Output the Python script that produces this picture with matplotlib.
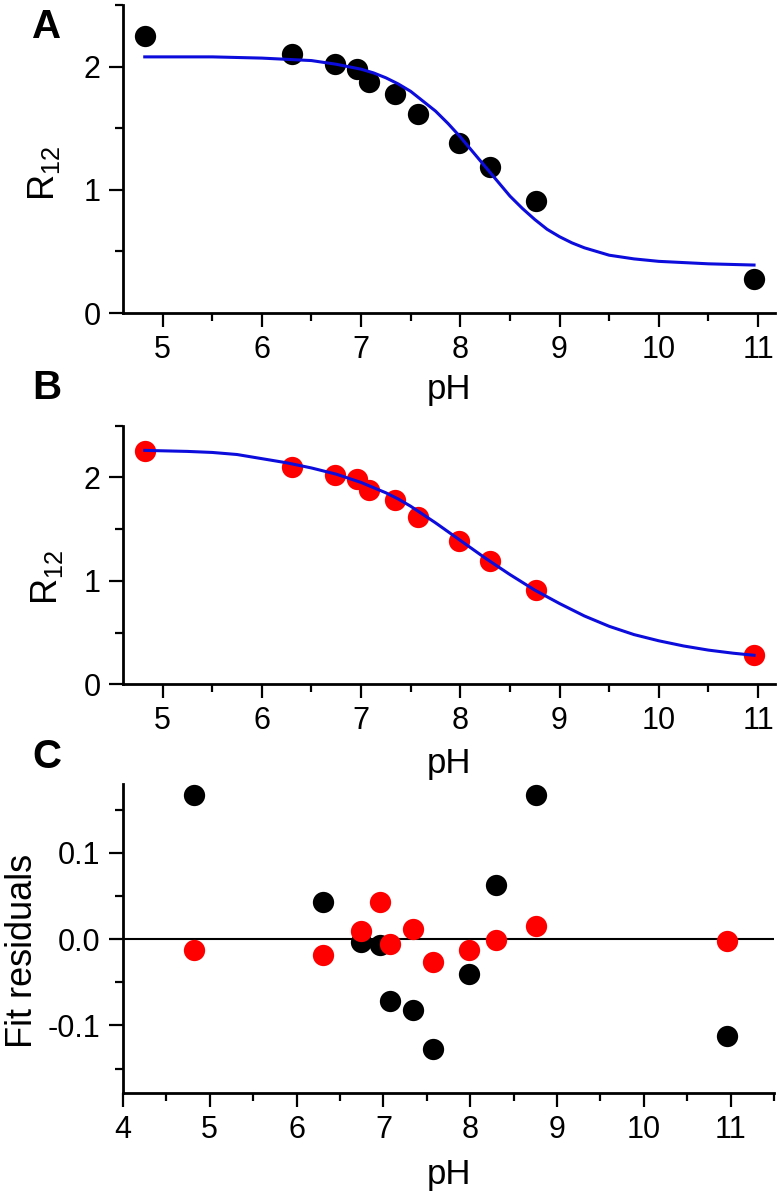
import matplotlib
matplotlib.use("Agg")
import matplotlib.pyplot as plt
from matplotlib.ticker import MultipleLocator, FormatStrFormatter

plt.rcParams['font.family'] = ['Liberation Sans', 'DejaVu Sans']
plt.rcParams['axes.unicode_minus'] = False

# measured points (same data in A and B)
ph = [4.82, 6.30, 6.74, 6.96, 7.08, 7.34, 7.57, 7.99, 8.30, 8.76, 10.96]
r12 = [2.25, 2.10, 2.02, 1.98, 1.88, 1.78, 1.62, 1.38, 1.19, 0.91, 0.28]

# fit curve of panel A
fit_a_ph = [4.82, 5.5, 6.0, 6.5, 6.75, 7.0, 7.125, 7.25, 7.375, 7.5, 7.625, 7.75,
            7.875, 8.0, 8.125, 8.25, 8.375, 8.5, 8.625, 8.75, 8.875, 9.0, 9.125,
            9.25, 9.375, 9.5, 9.75, 10.0, 10.5, 10.96]
fit_a_r = [2.08, 2.08, 2.07, 2.05, 2.02, 1.98, 1.95, 1.91, 1.86, 1.80, 1.72, 1.64,
           1.54, 1.43, 1.31, 1.19, 1.07, 0.95, 0.85, 0.76, 0.68, 0.62, 0.57,
           0.53, 0.50, 0.47, 0.44, 0.42, 0.40, 0.39]

# fit curve of panel B
fit_b_ph = [4.82, 5.25, 5.5, 5.75, 6.0, 6.25, 6.5, 6.75, 7.0, 7.125, 7.25, 7.375,
            7.5, 7.625, 7.75, 7.875, 8.0, 8.125, 8.25, 8.375, 8.5, 8.625, 8.75,
            8.875, 9.0, 9.125, 9.25, 9.5, 9.75, 10.0, 10.25, 10.5, 10.75, 10.96]
fit_b_r = [2.26, 2.25, 2.24, 2.22, 2.18, 2.14, 2.09, 2.03, 1.95, 1.90, 1.85, 1.79,
           1.72, 1.64, 1.56, 1.475, 1.39, 1.305, 1.22, 1.14, 1.06, 0.985, 0.91,
           0.845, 0.78, 0.72, 0.66, 0.56, 0.48, 0.42, 0.37, 0.33, 0.30, 0.28]

# residuals (panel C)
res_a = [0.167, 0.043, -0.003, -0.007, -0.072, -0.082, -0.127, -0.040, 0.063, 0.167, -0.112]
res_b = [-0.012, -0.018, 0.010, 0.043, -0.006, 0.012, -0.027, -0.012, -0.001, 0.015, -0.002]

BLUE = '#0c0cdc'
RED = '#ff0000'
MS = 235
TICK_FS = 22
LAB_FS = 25

fig = plt.figure(figsize=(7.78, 11.95), dpi=100)
ax_a = fig.add_axes([0.158, 0.738, 0.838, 0.2577])
ax_b = fig.add_axes([0.158, 0.4274, 0.838, 0.2165])
ax_c = fig.add_axes([0.158, 0.0856, 0.837, 0.2584])


def style(ax):
    for s in ['top', 'right']:
        ax.spines[s].set_visible(False)
    for s in ['left', 'bottom']:
        ax.spines[s].set_linewidth(2)
    ax.tick_params(which='major', direction='out', length=10, width=1.6,
                   labelsize=TICK_FS, pad=6)
    ax.tick_params(which='minor', direction='out', length=5.5, width=1.6)


# A
ax_a.scatter(ph, r12, s=MS, color='black', zorder=2, linewidths=0)
ax_a.plot(fit_a_ph, fit_a_r, color=BLUE, lw=2.2, zorder=3)
# B
ax_b.scatter(ph, r12, s=MS, color=RED, zorder=2, linewidths=0)
ax_b.plot(fit_b_ph, fit_b_r, color=BLUE, lw=2.2, zorder=3)

for ax in (ax_a, ax_b):
    style(ax)
    ax.set_xlim(4.6, 11.17)
    ax.set_ylim(0, 2.5)
    ax.xaxis.set_major_locator(MultipleLocator(1))
    ax.xaxis.set_minor_locator(MultipleLocator(0.5))
    ax.yaxis.set_major_locator(MultipleLocator(1))
    ax.yaxis.set_minor_locator(MultipleLocator(0.5))
    ax.set_ylabel(r'$\mathregular{R_{12}}$', fontsize=LAB_FS + 1)
    ax.set_xlabel('pH', fontsize=LAB_FS)

ax_a.yaxis.set_label_coords(-0.094, 0.455)
ax_b.yaxis.set_label_coords(-0.089, 0.415)
ax_a.xaxis.set_label_coords(0.5, -0.195)
ax_b.xaxis.set_label_coords(0.5, -0.242)

# C
style(ax_c)
ax_c.axhline(0, color='black', lw=1.5, zorder=1)
ax_c.scatter(ph, res_a, s=MS, color='black', zorder=2, linewidths=0)
ax_c.scatter(ph, res_b, s=MS, color=RED, zorder=3, linewidths=0)
ax_c.set_xlim(4, 11.5)
ax_c.set_ylim(-0.178, 0.18)
ax_c.xaxis.set_major_locator(MultipleLocator(1))
ax_c.xaxis.set_minor_locator(MultipleLocator(0.5))
ax_c.yaxis.set_major_locator(MultipleLocator(0.1))
ax_c.yaxis.set_minor_locator(MultipleLocator(0.05))
ax_c.yaxis.set_major_formatter(FormatStrFormatter('%.1f'))
ax_c.set_xlabel('pH', fontsize=LAB_FS)
ax_c.set_ylabel('Fit residuals', fontsize=LAB_FS + 1)
ax_c.xaxis.set_label_coords(0.5, -0.21)
ax_c.yaxis.set_label_coords(-0.128, 0.459)

for lab, y in (('A', 27), ('B', 388), ('C', 757)):
    fig.text(47 / 778, 1 - y / 1195, lab, fontsize=29, fontweight='bold',
             ha='center', va='center')

fig.savefig('out.png', dpi=100)
